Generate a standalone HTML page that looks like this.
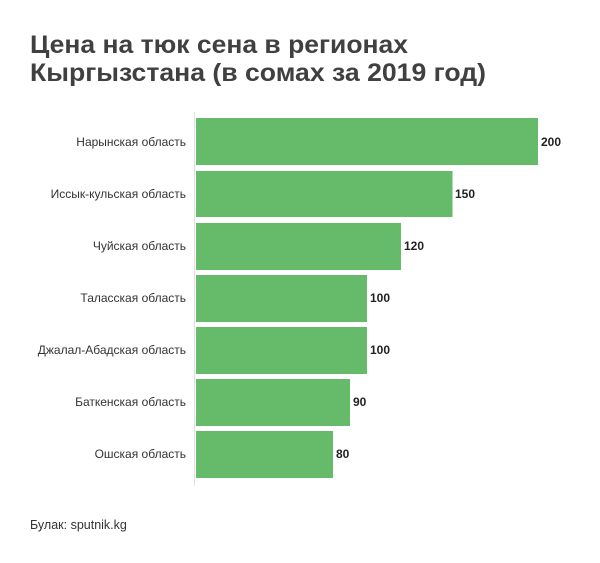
<!DOCTYPE html>
<html><head><meta charset="utf-8"><style>
html,body{margin:0;padding:0;background:#fff;}
svg{display:block;font-family:"Liberation Sans",sans-serif;}
</style></head><body>
<svg width="600" height="563" viewBox="0 0 600 563">
<text x="30" y="53" font-size="25" font-weight="bold" fill="#404040" textLength="378" lengthAdjust="spacingAndGlyphs">Цена на тюк сена в регионах</text>
<text x="30" y="81" font-size="25" font-weight="bold" fill="#404040" textLength="456" lengthAdjust="spacingAndGlyphs">Кыргызстана (в сомах за 2019 год)</text>
<line x1="194.5" y1="112" x2="194.5" y2="486" stroke="#e0e0e0" stroke-width="1"/>
<g fill="#66bb6a">
<rect x="196" y="118" width="342" height="47"/>
<rect x="196" y="171" width="256.5" height="46"/>
<rect x="196" y="223" width="205" height="47"/>
<rect x="196" y="275" width="171" height="47"/>
<rect x="196" y="327" width="171" height="47"/>
<rect x="196" y="379" width="154" height="47"/>
<rect x="196" y="431" width="137" height="47"/>
</g>
<g font-size="12" fill="#333" text-anchor="end">
<text x="186" y="146">Нарынская область</text>
<text x="186" y="198">Иссык-кульская область</text>
<text x="186" y="250">Чуйская область</text>
<text x="186" y="302">Таласская область</text>
<text x="186" y="354">Джалал-Абадская область</text>
<text x="186" y="406">Баткенская область</text>
<text x="186" y="458">Ошская область</text>
</g>
<g font-size="12" font-weight="bold" fill="#222">
<text x="541" y="146">200</text>
<text x="455" y="198">150</text>
<text x="404" y="250">120</text>
<text x="370" y="302">100</text>
<text x="370" y="354">100</text>
<text x="353" y="406">90</text>
<text x="336" y="458">80</text>
</g>
<text x="30" y="529" font-size="12.5" fill="#333">Булак: sputnik.kg</text>
</svg>
</body></html>
